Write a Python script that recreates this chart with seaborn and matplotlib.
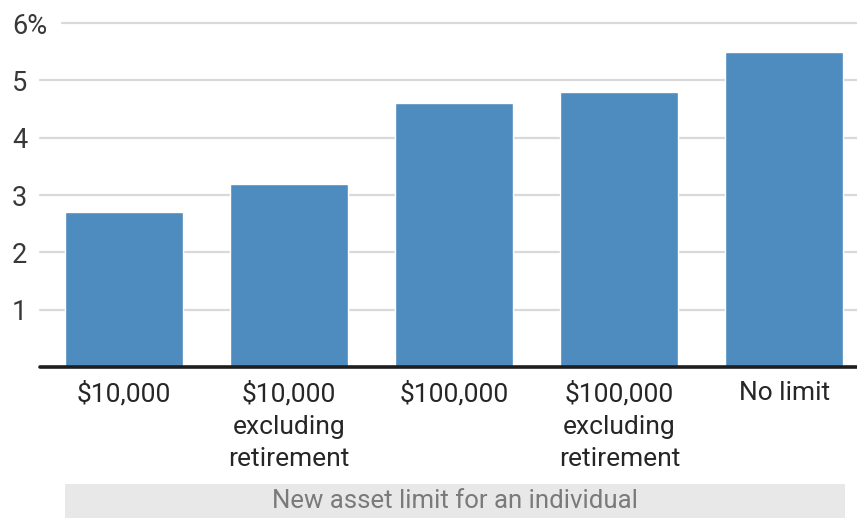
import matplotlib
matplotlib.use("Agg")
import matplotlib.pyplot as plt
from matplotlib.patches import Rectangle
import seaborn as sns
import pandas as pd

categories = ["$10,000", "$10,000\nexcluding\nretirement", "$100,000",
              "$100,000\nexcluding\nretirement", "No limit"]
values = [2.7, 3.2, 4.6, 4.8, 5.5]
ytick_values = [1, 2, 3, 4, 5, 6]
ytick_labels = ["1", "2", "3", "4", "5", "6%"]
axis_title = "New asset limit for an individual"

sns.set_theme(style="white")
plt.rcParams["font.family"] = ["Roboto", "DejaVu Sans"]

W, H = 857, 518
fig = plt.figure(figsize=(W / 100, H / 100), dpi=100)
ax = fig.add_axes([40 / W, (H - 367) / H, (W - 40) / W, 344 / H])

df = pd.DataFrame({"limit": categories, "value": values})
sns.barplot(data=df, x="limit", y="value", color="#4e8bbe", saturation=1,
            width=0.715, ax=ax, zorder=3)

ax.set_ylim(0, 6)
ax.set_xlim(-0.51, 4.44)

# horizontal guides; the top one leaves room for the "%" label
for v in ytick_values:
    start = 22 / (W - 40) if v == 6 else 0
    ax.axhline(v, xmin=start, xmax=1, color="#d9d9d9", lw=1.6, zorder=1,
               clip_on=False)
ax.axhline(0, color="#1e1e1e", lw=2.6, zorder=4, clip_on=False)

for s in ax.spines.values():
    s.set_visible(False)

ax.set_yticks(ytick_values)
ax.set_yticklabels(ytick_labels)
ax.tick_params(axis="y", length=0, pad=28 * 0.72, labelsize=19.5,
               labelcolor="#383838")
for lbl in ax.get_yticklabels():
    lbl.set_horizontalalignment("left")

ax.tick_params(axis="x", length=0, pad=10, labelsize=19, labelcolor="#262626")
for lbl in ax.get_xticklabels():
    lbl.set_linespacing(1.45)
    lbl.set_verticalalignment("top")

ax.set_xlabel("")
ax.set_ylabel("")

# shaded caption band under the category labels
fig.patches.append(Rectangle((65 / W, 0), (845 - 65) / W, 34 / H,
                             transform=fig.transFigure, facecolor="#e8e8e8",
                             edgecolor="none", zorder=0))
fig.text((65 + 845) / 2 / W, 17 / H, axis_title, ha="center", va="center",
         fontsize=18.5, color="#7a7a7a")

fig.savefig("out.png", dpi=100, facecolor="white")
